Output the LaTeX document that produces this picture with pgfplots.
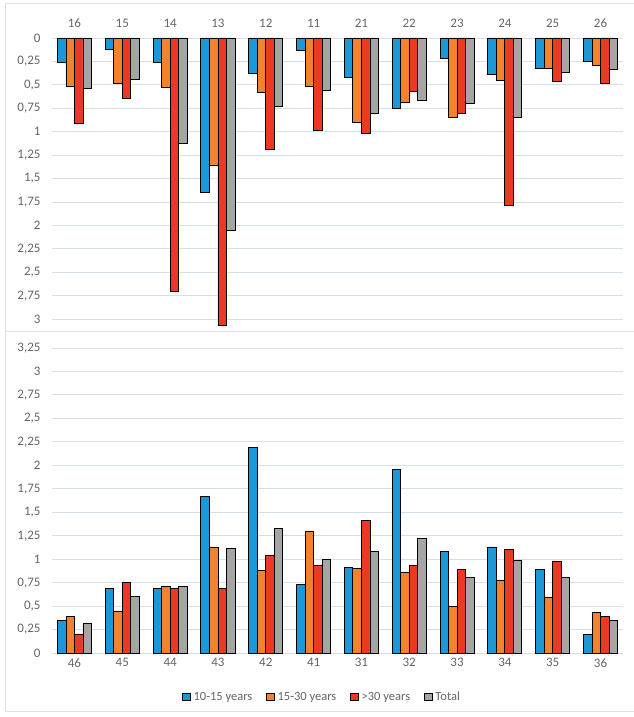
\documentclass[border=0pt]{standalone}
\usepackage{fontspec}
\setmainfont{Carlito}
\usepackage{pgfplots}
\pgfplotsset{compat=1.18}
\definecolor{cblue}{RGB}{30,152,212}
\definecolor{corange}{RGB}{242,130,48}
\definecolor{cred}{RGB}{234,58,36}
\definecolor{cgray}{RGB}{165,165,165}
\definecolor{gridc}{RGB}{214,222,230}
\definecolor{textc}{RGB}{100,100,100}
\definecolor{framec}{RGB}{225,225,225}
\pgfplotsset{
  mystyle/.style={
    scale only axis, width=571pt,
    xmin=-0.47, xmax=11.47,
    axis line style={draw=none},
    ymajorgrids, grid style={color=gridc, line width=0.9pt},
    major tick length=0pt, tick style={draw=none},
    xtick={0,...,11},
    ybar, bar width=0.178,
    tick label style={color=textc, font=\fontsize{13}{15}\selectfont},
    yticklabel style={anchor=east, xshift=-8pt},
    every axis plot/.append style={draw=black, line width=0.85pt},
    legend image code/.code={\draw[#1, draw=black, line width=0.8pt] (0pt,-3.8pt) rectangle (7.5pt,3.8pt);},
  },
  sb/.style={fill=cblue, bar shift=-0.267},
  so/.style={fill=corange, bar shift=-0.089},
  sr/.style={fill=cred, bar shift=0.089},
  sg/.style={fill=cgray, bar shift=0.267},
}
\pgfplotstableread{
x b o r g
0 0.26 0.52 0.91 0.54
1 0.125 0.48 0.65 0.44
2 0.26 0.53 2.70 1.12
3 1.65 1.36 3.07 2.05
4 0.38 0.58 1.19 0.73
5 0.135 0.52 0.99 0.56
6 0.42 0.90 1.02 0.80
7 0.75 0.69 0.57 0.67
8 0.22 0.85 0.81 0.70
9 0.39 0.45 1.79 0.85
10 0.33 0.33 0.46 0.37
11 0.25 0.29 0.48 0.34
}\toptable
\pgfplotstableread{
x b o r g
0 0.345 0.39 0.195 0.32
1 0.69 0.44 0.75 0.60
2 0.69 0.71 0.69 0.71
3 1.67 1.13 0.69 1.11
4 2.19 0.88 1.04 1.33
5 0.735 1.30 0.93 1.00
6 0.91 0.905 1.41 1.08
7 1.96 0.86 0.93 1.22
8 1.08 0.50 0.89 0.80
9 1.13 0.77 1.10 0.99
10 0.89 0.59 0.98 0.80
11 0.195 0.43 0.39 0.345
}\bottable
\begin{document}
\begin{tikzpicture}[x=1pt,y=1pt]
\path[use as bounding box] (0,0) rectangle (634,717);
\draw[framec, line width=1pt] (5,5) rectangle (640,713);
\draw[framec, line width=1pt] (5,385) -- (640,385);
\begin{axis}[mystyle,
  at={(52pt,679pt)}, anchor=north west,
  height=290.5pt,
  y dir=reverse, ymin=0, ymax=3.1,
  ytick={0,0.25,...,3},
  yticklabels={0,{0,25},{0,5},{0,75},1,{1,25},{1,5},{1,75},2,{2,25},{2,5},{2,75},3},
  xticklabel pos=upper,
  xticklabels={16,15,14,13,12,11,21,22,23,24,25,26},
  xticklabel style={yshift=7pt},
]
\addplot[sb] table[x=x,y=b]{\toptable};
\addplot[so] table[x=x,y=o]{\toptable};
\addplot[sr] table[x=x,y=r]{\toptable};
\addplot[sg] table[x=x,y=g]{\toptable};
\end{axis}
\begin{axis}[mystyle,
  at={(52pt,64pt)}, anchor=south west,
  height=305pt,
  ymin=0, ymax=3.25,
  ytick={0,0.25,...,3.25},
  yticklabels={0,{0,25},{0,5},{0,75},1,{1,25},{1,5},{1,75},2,{2,25},{2,5},{2,75},3,{3,25}},
  xticklabels={46,45,44,43,42,41,31,32,33,34,35,36},
  xticklabel style={yshift=-2pt},
  legend columns=4,
  legend style={at={(0.473,-0.144)}, anchor=center, draw=none, fill=none,
    font=\fontsize{12.5}{14}\selectfont, text=textc,
    /tikz/every even column/.append style={column sep=12pt},
    /tikz/every odd column/.append style={column sep=1pt}},
]
\addplot[sb] table[x=x,y=b]{\bottable};
\addplot[so] table[x=x,y=o]{\bottable};
\addplot[sr] table[x=x,y=r]{\bottable};
\addplot[sg] table[x=x,y=g]{\bottable};
\legend{10-15 years,15-30 years,>30 years,Total}
\end{axis}
\end{tikzpicture}
\end{document}
